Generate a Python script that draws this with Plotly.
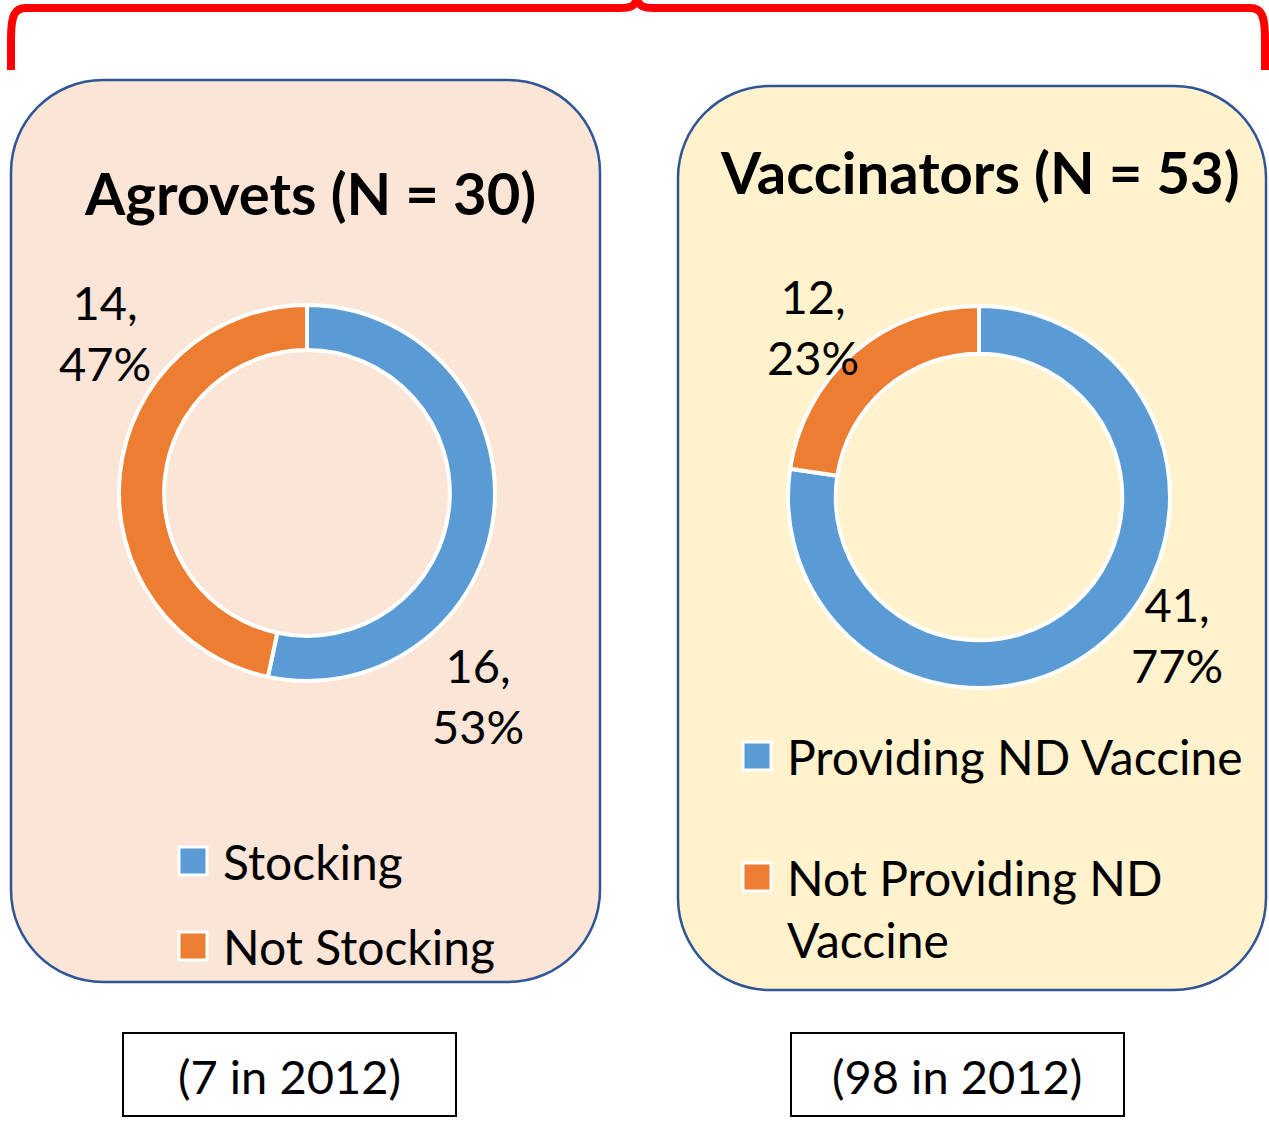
"""Agrovets vs vaccinators: ND vaccine availability donuts."""

import textwrap

import plotly.graph_objects as go

W, H = 1269, 1124

# ── Data ──────────────────────────────────────────────────────────────────
agro_labels = ["Stocking", "Not Stocking"]
agro_values = [16, 14]
agro_title = "Agrovets (N = 30)"
agro_note = "(7 in 2012)"

vacc_labels = ["Providing ND Vaccine", "Not Providing ND Vaccine"]
vacc_values = [41, 12]
vacc_title = "Vaccinators (N = 53)"
vacc_note = "(98 in 2012)"

slice_colors = ["#5B9BD5", "#ED7D31"]

FONT = "Lato"
BORDER = "#2F5597"


# ── Pixel -> paper helpers ────────────────────────────────────────────────
def px(x):
    return x / W


def py(y):
    return 1 - y / H


def rounded_rect(x0, y0, x1, y1, r):
    k = 0.5523 * r
    pts = [
        f"M {px(x0 + r)},{py(y0)}",
        f"L {px(x1 - r)},{py(y0)}",
        f"C {px(x1 - r + k)},{py(y0)} {px(x1)},{py(y0 + r - k)} {px(x1)},{py(y0 + r)}",
        f"L {px(x1)},{py(y1 - r)}",
        f"C {px(x1)},{py(y1 - r + k)} {px(x1 - r + k)},{py(y1)} {px(x1 - r)},{py(y1)}",
        f"L {px(x0 + r)},{py(y1)}",
        f"C {px(x0 + r - k)},{py(y1)} {px(x0)},{py(y1 - r + k)} {px(x0)},{py(y1 - r)}",
        f"L {px(x0)},{py(y0 + r)}",
        f"C {px(x0)},{py(y0 + r - k)} {px(x0 + r - k)},{py(y0)} {px(x0 + r)},{py(y0)}",
        "Z",
    ]
    return " ".join(pts)


def pie_domain(cx, cy, r):
    return dict(x=[px(cx - r), px(cx + r)], y=[py(cy + r), py(cy - r)])


fig = go.Figure()
shapes = []
annotations = []

# Panels
shapes.append(dict(type="path", xref="paper", yref="paper", layer="below",
                   path=rounded_rect(11, 80, 600, 982, 92),
                   fillcolor="#FBE5D6", line=dict(color=BORDER, width=2.5)))
shapes.append(dict(type="path", xref="paper", yref="paper", layer="below",
                   path=rounded_rect(678, 86, 1266, 990, 92),
                   fillcolor="#FFF2CC", line=dict(color=BORDER, width=2.5)))

# Red brace on top
brace = " ".join([
    f"M {px(11)},{py(70)}",
    f"L {px(11)},{py(40)}",
    f"C {px(11)},{py(16)} {px(14)},{py(8)} {px(26)},{py(8)}",
    f"L {px(620)},{py(8)}",
    f"C {px(631)},{py(8)} {px(634)},{py(6)} {px(637)},{py(0)}",
    f"C {px(640)},{py(6)} {px(643)},{py(8)} {px(654)},{py(8)}",
    f"L {px(1250)},{py(8)}",
    f"C {px(1262)},{py(8)} {px(1265)},{py(16)} {px(1265)},{py(40)}",
    f"L {px(1265)},{py(70)}",
])
shapes.append(dict(type="path", xref="paper", yref="paper", path=brace,
                   line=dict(color="#FF0000", width=8)))

# Note boxes
for x0, note in [(123, agro_note), (791, vacc_note)]:
    shapes.append(dict(type="rect", xref="paper", yref="paper",
                       x0=px(x0), x1=px(x0 + 333), y0=py(1116), y1=py(1033),
                       fillcolor="white", line=dict(color="black", width=2)))
    annotations.append(dict(xref="paper", yref="paper", x=px(x0 + 166),
                            y=py(1076), text=note, showarrow=False,
                            xanchor="center", yanchor="middle",
                            font=dict(family=FONT, size=47, color="black")))

panels = [
    dict(labels=agro_labels, values=agro_values, title=agro_title,
         cx=307, cy=493, r=188, hole=0.76, title_xy=(310, 192),
         label_xy=[(478, 695), (105, 333)],
         legend_x=193, legend_y=[861, 946]),
    dict(labels=vacc_labels, values=vacc_values, title=vacc_title,
         cx=979, cy=497, r=191, hole=0.75, title_xy=(980, 171),
         label_xy=[(1177, 634), (813, 326)],
         legend_x=757, legend_y=[756, 908]),
]

for p in panels:
    fig.add_trace(go.Pie(
        labels=p["labels"], values=p["values"], hole=p["hole"],
        sort=False, direction="clockwise", rotation=0,
        marker=dict(colors=slice_colors, line=dict(color="white", width=4)),
        textinfo="none", hoverinfo="label+value+percent", showlegend=False,
        domain=pie_domain(p["cx"], p["cy"], p["r"]),
    ))

    tx, ty = p["title_xy"]
    annotations.append(dict(xref="paper", yref="paper", x=px(tx), y=py(ty),
                            text=f"<b>{p['title']}</b>", showarrow=False,
                            xanchor="center", yanchor="middle",
                            font=dict(family=FONT, size=58, color="black")))

    total = sum(p["values"])
    for v, (lx, ly) in zip(p["values"], p["label_xy"]):
        annotations.append(dict(xref="paper", yref="paper", x=px(lx), y=py(ly),
                                text=f"{v},<br>{round(v / total * 100)}%",
                                showarrow=False, align="center",
                                xanchor="center", yanchor="middle",
                                font=dict(family=FONT, size=47, color="black")))

    # Legend: squares + labels
    for lab, col, ly in zip(p["labels"], slice_colors, p["legend_y"]):
        lines = textwrap.wrap(lab, 20)
        sq_y = ly - (len(lines) - 1) * 31
        shapes.append(dict(type="rect", xref="paper", yref="paper",
                           x0=px(p["legend_x"] - 14), x1=px(p["legend_x"] + 14),
                           y0=py(sq_y + 14), y1=py(sq_y - 14),
                           fillcolor=col, line=dict(color="white", width=3)))
        annotations.append(dict(xref="paper", yref="paper",
                                x=px(p["legend_x"] + 28), y=py(ly),
                                text="<br>".join(lines), showarrow=False,
                                align="left", xanchor="left", yanchor="middle",
                                font=dict(family=FONT, size=48, color="black")))

fig.update_layout(
    width=W, height=H,
    margin=dict(l=0, r=0, t=0, b=0),
    paper_bgcolor="white",
    plot_bgcolor="white",
    shapes=shapes,
    annotations=annotations,
)

# drop the default page margin so the figure sits at the window origin
fig.write_html("out.html",
               config={"displayModeBar": False},
               post_script="document.body.style.margin='0';"
                           "document.body.style.overflow='hidden';")
